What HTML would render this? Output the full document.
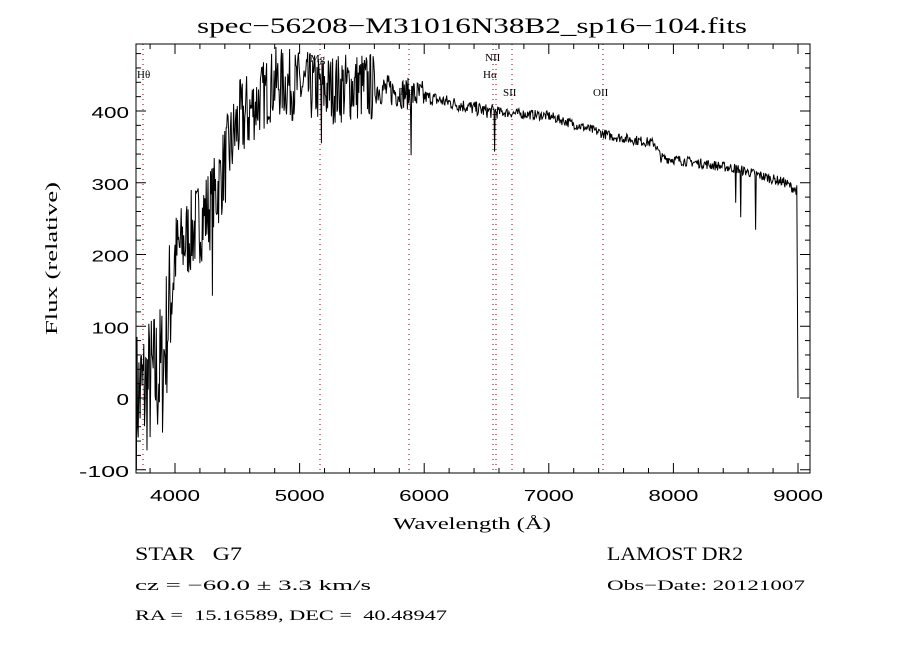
<!DOCTYPE html>
<html><head><style>
body{margin:0;background:#fff;width:900px;height:650px;overflow:hidden}
svg{display:block}
</style></head><body>
<svg id="s" width="900" height="650" xmlns="http://www.w3.org/2000/svg">
<rect x="0" y="0" width="900" height="650" fill="#fff"/>
<text x="197" y="33" font-size="22" textLength="550" lengthAdjust="spacingAndGlyphs" font-family="Liberation Serif, serif">spec−56208−M31016N38B2_sp16−104.fits</text>
<g id="ax"></g>
<path id="sp" fill="none" stroke="#000" stroke-width="1"/>
<rect x="136" y="44" width="674" height="429" fill="none" stroke="#000" stroke-width="1"/>
<g font-family="Liberation Serif, serif" font-size="11">
<text x="137" y="78">Hθ</text>
<text x="310" y="62">Mg</text>
<text x="400" y="95">Na</text>
<text x="485" y="61">NII</text>
<text x="483" y="78">Hα</text>
<text x="503" y="96">SII</text>
<text x="593" y="96">OII</text>
</g>
<text x="393" y="529" font-size="17" textLength="158" lengthAdjust="spacingAndGlyphs" font-family="Liberation Serif, serif">Wavelength (Å)</text>
<text transform="translate(57,335) rotate(-90)" font-size="17" textLength="153" lengthAdjust="spacingAndGlyphs" font-family="Liberation Serif, serif">Flux (relative)</text>
<g font-family="Liberation Serif, serif">
<text x="135" y="560" font-size="19" textLength="107" lengthAdjust="spacingAndGlyphs" style="white-space:pre">STAR   G7</text>
<text x="607" y="560" font-size="19" textLength="136" lengthAdjust="spacingAndGlyphs">LAMOST DR2</text>
<text x="135" y="590" font-size="15" textLength="236" lengthAdjust="spacingAndGlyphs">cz = −60.0 ± 3.3 km/s</text>
<text x="607" y="590" font-size="15" textLength="198" lengthAdjust="spacingAndGlyphs">Obs−Date: 20121007</text>
<text x="135" y="620" font-size="15" textLength="312" lengthAdjust="spacingAndGlyphs" style="white-space:pre">RA =  15.16589, DEC =  40.48947</text>
</g>
</svg>
<script>
var ax=document.getElementById('ax'),h='';
function X(w){return 175+(w-4000)*0.1246}
function Y(f){return 398-f*0.7175}
for(var w=3800;w<=9000;w+=200){var x=X(w),M=w%1000==0,L=M?10:5;
h+='<line x1="'+x+'" y1="473" x2="'+x+'" y2="'+(473-L)+'" stroke="#000"/><line x1="'+x+'" y1="44" x2="'+x+'" y2="'+(44+L)+'" stroke="#000"/>';
if(M)h+='<text x="'+(x-25)+'" y="501" font-size="16" textLength="50" lengthAdjust="spacingAndGlyphs" font-family="Liberation Sans, sans-serif">'+w+'</text>';}
for(var f=-100;f<=480;f+=20){var y=Y(f),M=f%100==0,L=M?10:5;
h+='<line x1="136" y1="'+y+'" x2="'+(136+L)+'" y2="'+y+'" stroke="#000"/><line x1="810" y1="'+y+'" x2="'+(810-L)+'" y2="'+y+'" stroke="#000"/>';
if(M){var s=String(f);h+='<text x="'+(129-s.length*12.5)+'" y="'+(y+7)+'" font-size="16" textLength="'+(s.length*12.5)+'" lengthAdjust="spacingAndGlyphs" font-family="Liberation Sans, sans-serif">'+s+'</text>';}}
[143,320,409,493,496,512,603].forEach(function(x){h+='<line x1="'+x+'" y1="44" x2="'+x+'" y2="473" stroke="#800" stroke-width="1" stroke-dasharray="1,4"/>';});
ax.innerHTML=h;
var seed=7;function r(){seed=(seed*16807)%2147483647;return seed/2147483647-0.5}
function base(w){var p=[[3690,0],[3900,40],[4000,200],[4300,270],[4500,380],[4800,440],[5200,430],[5500,435],[6000,420],[6500,400],[7000,393],[7500,365],[7850,355],[7900,335],[8500,320],[8900,300],[8980,290]];
for(var i=0;i<p.length-1;i++)if(w<=p[i+1][0]){var t=(w-p[i][0])/(p[i+1][0]-p[i][0]);return p[i][1]+t*(p[i+1][1]-p[i][1]);}return 290}
function noise(w){if(w<4000)return 200;if(w<4600)return 120;if(w<5600)return 100;if(w<6000)return 45;if(w<6600)return 20;return 14}
var d='';
for(var w=3690;w<=8990;w+=5){var f=base(w)+noise(w)*r();
[[5175,70],[5894,70],[6563,50],[8498,50],[8542,70],[8662,80],[4300,70]].forEach(function(a){if(Math.abs(w-a[0])<3)f-=a[1];});
d+=(d?'L':'M')+X(w).toFixed(1)+','+Math.max(44,Math.min(473,Y(f))).toFixed(1);}
d+='L'+X(8995)+','+Y(150)+'L'+X(9000)+','+Y(0);
document.getElementById('sp').setAttribute('d',d);
</script>
</body></html>
